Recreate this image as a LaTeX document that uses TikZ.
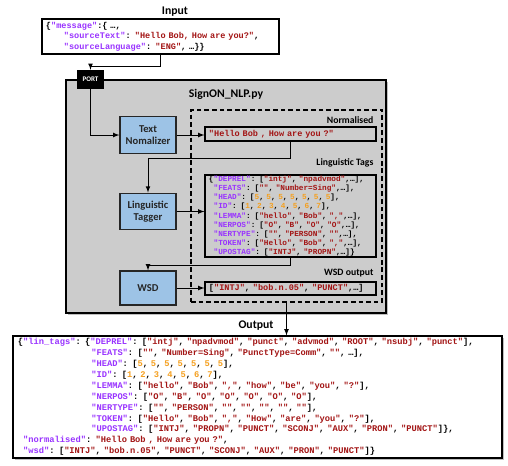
\documentclass[tikz,border=0pt]{standalone}
\usepackage{fontspec}
\setmainfont{Carlito}
\setmonofont{Liberation Mono}
\usetikzlibrary{positioning,shadows}

\definecolor{keypurple}{HTML}{9933FF}
\definecolor{strred}{HTML}{A31515}
\definecolor{numorange}{HTML}{F5A020}
\definecolor{modblue}{HTML}{9DC3E6}
\definecolor{panelgray}{HTML}{CCCCCC}

\newcommand{\keyv}[1]{\textcolor{keypurple}{"#1"}}
\newcommand{\strv}[1]{\textcolor{strred}{"#1"}}
\newcommand{\numv}[1]{\textcolor{numorange}{#1}}
\newcommand{\codeind}[1]{\hspace*{#1\fontcharwd\font`\x}}

\tikzset{
  heading/.style={font=\bfseries\fontsize{10}{12}\selectfont},
  tagname/.style={font=\bfseries\fontsize{8.3}{10}\selectfont, inner sep=1pt},
  module/.style={draw=black!85, line width=1.1pt, fill=modblue, align=center,
    minimum width=1.68cm, minimum height=1.1cm, text=black!85,
    font=\bfseries\fontsize{9}{10.5}\selectfont},
  codebox/.style={draw=black, line width=1pt, align=left, inner xsep=0.12cm,
    inner ysep=1pt, font=\ttfamily\bfseries\fontsize{7.3}{8.9}\selectfont},
  flow/.style={-latex, line width=0.85pt},
}

\begin{document}
\begin{tikzpicture}[x=0.03cm, y=-0.03cm]
\useasboundingbox (0,0) rectangle (508,465);

% input message
\node[heading] (inlbl) at (175,12) {Input};
\node[codebox, text width=6.87cm, minimum height=1.05cm] (inbox) at (160.5,36.5)
  {\{\keyv{message}:\{ …,\\
   \codeind{3.5}\keyv{sourceText}: \strv{Hello Bob, How are you?},\\
   \codeind{3.5}\keyv{sourceLanguage}: \strv{ENG}, …\}\}};

% the NLP module
\node[draw=black, line width=2pt, fill=panelgray, minimum width=9.6cm, minimum height=6.99cm,
  drop shadow={shadow xshift=0.05cm, shadow yshift=-0.05cm}] (panel) at (226,196.5) {};
\node[heading] (title) at (226,94) {SignON\_NLP.py};
\node[draw, line width=1pt, dash pattern=on 4pt off 2.5pt, minimum width=5.73cm,
  minimum height=5.76cm] (outs) at (286.5,206) {};
\node[fill=black, text=white, font=\bfseries\fontsize{6}{7}\selectfont, inner sep=0pt,
  minimum width=0.81cm, minimum height=0.57cm] (port) at (90.5,79.5) {PORT};

\node[module] (textnorm) at (148,135) {Text\\Nomalizer};
\node[module] (tagger) at (148,211.5) {Linguistic\\Tagger};
\node[module, minimum height=1.02cm] (wsd) at (148,288) {WSD};

\node[codebox, text width=4.89cm, minimum height=0.42cm] (normbox) at (290.5,134)
  {\strv{Hello Bob , How are you ?}};
\node[codebox, text width=4.89cm, minimum height=2.46cm, inner ysep=0.5pt,
  font=\ttfamily\bfseries\fontsize{6.6}{7.8}\selectfont] (tagsbox) at (290.5,216)
  {\{\keyv{DEPREL}: [\strv{intj}, \strv{npadvmod},…],\\
   \codeind{1}\keyv{FEATS}: [\strv{}, \strv{Number=Sing},…],\\
   \codeind{1}\keyv{HEAD}: [\numv{5}, \numv{5}, \numv{5}, \numv{5}, \numv{5}, \numv{5}, \numv{5}],\\
   \codeind{1}\keyv{ID}: [\numv{1}, \numv{2}, \numv{3}, \numv{4}, \numv{5}, \numv{6}, \numv{7}],\\
   \codeind{1}\keyv{LEMMA}: [\strv{hello}, \strv{Bob}, \strv{,},…],\\
   \codeind{1}\keyv{NERPOS}: [\strv{O}, \strv{B}, \strv{O}, \strv{O},…],\\
   \codeind{1}\keyv{NERTYPE}: [\strv{}, \strv{PERSON}, \strv{},…],\\
   \codeind{1}\keyv{TOKEN}: [\strv{Hello}, \strv{Bob}, \strv{,},…],\\
   \codeind{1}\keyv{UPOSTAG}: [\strv{INTJ}, \strv{PROPN},…]\}};
\node[codebox, text width=4.89cm, minimum height=0.39cm, inner ysep=0.5pt] (wsdbox) at (290.5,288.5)
  {[\strv{INTJ}, \strv{bob.n.05}, \strv{PUNCT},…]};

\node[tagname, anchor=south east] (normlbl) at ([xshift=-1.5pt, yshift=1.5pt]normbox.north east) {Normalised};
\node[tagname, anchor=south east] (tagslbl) at ([xshift=-1.5pt, yshift=5pt]tagsbox.north east) {Linguistic Tags};
\node[tagname, anchor=south east] (wsdlbl) at ([xshift=-1.5pt, yshift=2.5pt]wsdbox.north east) {WSD output};

% output message
\node[heading] (outlbl) at (256,326) {Output};
\node[codebox, fill=white, text width=14.37cm, minimum width=14.67cm, minimum height=3.66cm,
  inner xsep=0.15cm, drop shadow={shadow xshift=0.05cm, shadow yshift=-0.05cm},
  font=\ttfamily\bfseries\fontsize{7.45}{9.3}\selectfont] (outbox) at (257.5,397)
  {\{\keyv{lin\_tags}: \{\keyv{DEPREL}: [\strv{intj}, \strv{npadvmod}, \strv{punct}, \strv{advmod}, \strv{ROOT}, \strv{nsubj}, \strv{punct}],\\
   \codeind{14}\keyv{FEATS}: [\strv{}, \strv{Number=Sing}, \strv{PunctType=Comm}, \strv{}, …],\\
   \codeind{14}\keyv{HEAD}: [\numv{5}, \numv{5}, \numv{5}, \numv{5}, \numv{5}, \numv{5}, \numv{5}],\\
   \codeind{14}\keyv{ID}: [\numv{1}, \numv{2}, \numv{3}, \numv{4}, \numv{5}, \numv{6}, \numv{7}],\\
   \codeind{14}\keyv{LEMMA}: [\strv{hello}, \strv{Bob}, \strv{,}, \strv{how}, \strv{be}, \strv{you}, \strv{?}],\\
   \codeind{14}\keyv{NERPOS}: [\strv{O}, \strv{B}, \strv{O}, \strv{O}, \strv{O}, \strv{O}, \strv{O}],\\
   \codeind{14}\keyv{NERTYPE}: [\strv{}, \strv{PERSON}, \strv{}, \strv{}, \strv{}, \strv{}, \strv{}],\\
   \codeind{14}\keyv{TOKEN}: [\strv{Hello}, \strv{Bob}, \strv{,}, \strv{How}, \strv{are}, \strv{you}, \strv{?}],\\
   \codeind{14}\keyv{UPOSTAG}: [\strv{INTJ}, \strv{PROPN}, \strv{PUNCT}, \strv{SCONJ}, \strv{AUX}, \strv{PRON}, \strv{PUNCT}]\},\\
   \codeind{1}\keyv{normalised}: \strv{Hello Bob , How are you ?},\\
   \codeind{1}\keyv{wsd}: [\strv{INTJ}, \strv{bob.n.05}, \strv{PUNCT}, \strv{SCONJ}, \strv{AUX}, \strv{PRON}, \strv{PUNCT}]\}};

% connectors
\draw[flow] (inbox.south) -- ++(0,12) -| (port.north);
\draw[flow] (port.south) |- (textnorm.west);
\draw[flow] (textnorm.east) -- (textnorm.east -| normbox.west);
\draw[flow] (normbox.south) -- ++(0,17) -| (tagger.north);
\draw[flow] (tagger.east) -- (tagger.east -| tagsbox.west);
\draw[flow] (tagsbox.south) -- ++(0,8) -| (wsd.north);
\draw[flow] (wsd.east) -- (wsd.east -| wsdbox.west);
\draw[flow] (outs.south) -- (outs.south |- outbox.north);
\end{tikzpicture}
\end{document}
